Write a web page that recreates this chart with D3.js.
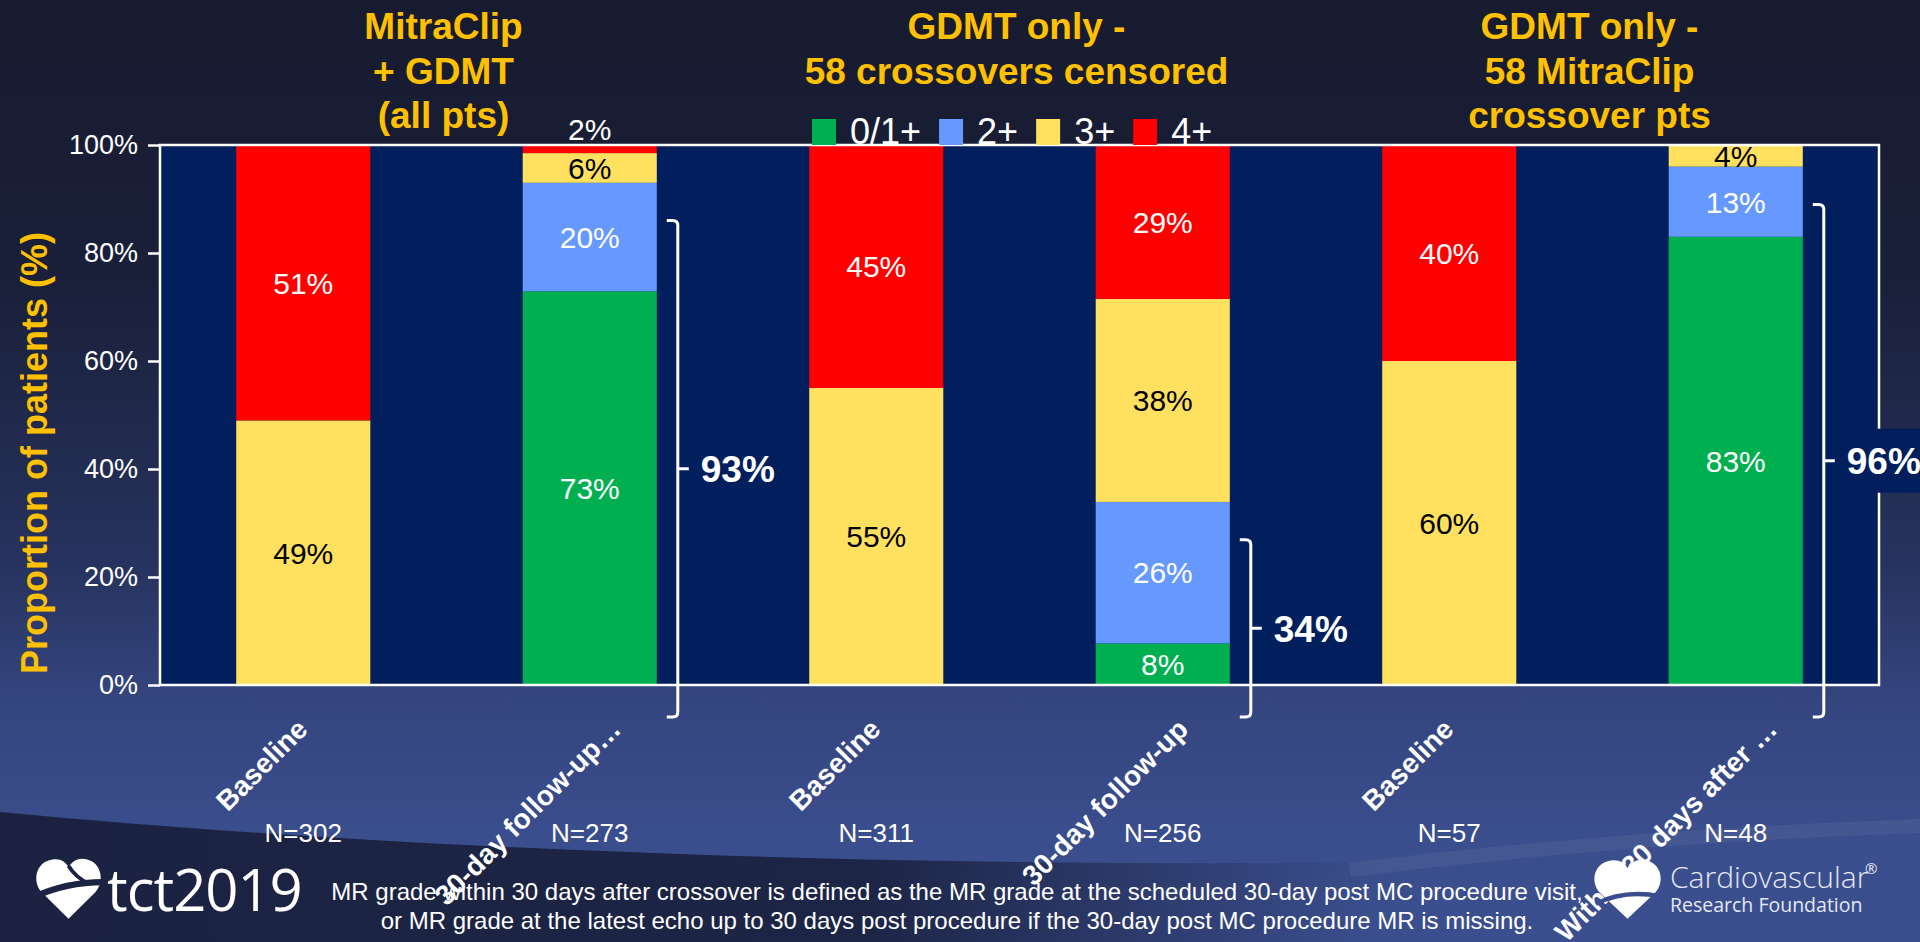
<!DOCTYPE html>
<html>
<head>
<meta charset="utf-8">
<script src="https://cdn.jsdelivr.net/npm/d3@7"></script>
<style>
  html, body { margin: 0; padding: 0; background: #171c30; overflow: hidden; }
  svg { display: block; font-family: Arial, "Liberation Sans", sans-serif; }
</style>
</head>
<body>
<svg id="chart" width="1920" height="942"></svg>
<script>
// Data (MR grade distribution, % of patients)
const categories = ["Baseline", "30-day follow-up\u2026", "Baseline", "30-day follow-up", "Baseline", "Within 30 days after \u2026"];
const nLabels = ["N=302", "N=273", "N=311", "N=256", "N=57", "N=48"];
const grades = ["0/1+", "2+", "3+", "4+"];
const grade01 = [0, 72.9, 0, 7.7, 0, 83.0];
const grade2 = [0, 20.1, 0, 26.2, 0, 13.0];
const grade3 = [49.0, 5.5, 55.0, 37.6, 60.0, 4.0];
const grade4 = [51.0, 1.5, 45.0, 28.5, 40.0, 0];
const yTicks = [0, 20, 40, 60, 80, 100];
const groupTitles = [
    ["MitraClip", "+ GDMT", "(all pts)"],
    ["GDMT only -", "58 crossovers censored"],
    ["GDMT only -", "58 MitraClip", "crossover pts"]
];
const bracketBars = [1, 3, 5];
const footnote = [
    "MR grade within 30 days after crossover is defined as the MR grade at the scheduled 30-day post MC procedure visit,",
    "or MR grade at the latest echo up to 30 days post procedure if the 30-day post MC procedure MR is missing."
];

const W = 1920, H = 942;
const margin = {top: 145, right: 41, bottom: 257, left: 160};
const w = W - margin.left - margin.right;
const h = H - margin.top - margin.bottom;

const gold = "#ffc000";
const color = d3.scaleOrdinal().domain(grades).range(["#00b050", "#6699ff", "#ffe15f", "#ff0000"]);
const labelColor = d3.scaleOrdinal().domain(grades).range(["#ffffff", "#ffffff", "#000000", "#ffffff"]);

const svg = d3.select("#chart");
const defs = svg.append("defs");

// Slide background
const bg = defs.append("linearGradient").attr("id", "bg").attr("x1", 0).attr("y1", 0).attr("x2", 0).attr("y2", 1);
[[0, "#171b2f"], [0.3, "#1a203a"], [0.6, "#27335f"], [0.74, "#34457e"], [0.88, "#3a4d8c"], [1, "#3b4f8f"]]
    .forEach(s => bg.append("stop").attr("offset", s[0]).attr("stop-color", s[1]));
const sw = defs.append("linearGradient").attr("id", "swoosh").attr("x1", 0).attr("y1", 0).attr("x2", 1).attr("y2", 0);
[[0, "#1b2241", 1], [0.45, "#1d2546", 1], [0.72, "#1d2546", 0]]
    .forEach(s => sw.append("stop").attr("offset", s[0]).attr("stop-color", s[1]).attr("stop-opacity", s[2]));

svg.append("rect").attr("width", W).attr("height", H).attr("fill", "url(#bg)");
svg.append("path")
    .attr("d", "M0,812 C400,850 900,868 1400,862 C1650,858 1800,850 1920,845 L1920,942 L0,942 Z")
    .attr("fill", "url(#swoosh)");
svg.append("path")
    .attr("d", "M1350,870 C1550,845 1750,832 1920,826")
    .attr("fill", "none").attr("stroke", "#ffffff").attr("stroke-opacity", 0.06).attr("stroke-width", 14);

// Scales
const x = d3.scaleBand()
    .domain(d3.range(categories.length))
    .range([margin.left, margin.left + w])
    .paddingInner(0.532)
    .paddingOuter(0.266);
const y = d3.scaleLinear().domain([0, 100]).range([margin.top + h, margin.top]);

// Plot area
svg.append("rect")
    .attr("x", margin.left).attr("y", margin.top)
    .attr("width", w).attr("height", h)
    .attr("fill", "#001f5c");

// Stacked bars
const rows = categories.map((c, i) => ({i: i, "0/1+": grade01[i], "2+": grade2[i], "3+": grade3[i], "4+": grade4[i]}));
const series = d3.stack().keys(grades)(rows);

const layers = svg.append("g").selectAll("g")
    .data(series)
    .join("g")
    .attr("fill", d => color(d.key));

layers.selectAll("rect")
    .data(d => d.filter(p => p[1] - p[0] > 0))
    .join("rect")
    .attr("x", d => x(d.data.i))
    .attr("y", d => y(d[1]))
    .attr("width", x.bandwidth())
    .attr("height", d => y(d[0]) - y(d[1]));

// Segment labels
series.forEach(s => {
    s.forEach(p => {
        const v = p[1] - p[0];
        if (v <= 0) return;
        const hh = y(p[0]) - y(p[1]);
        const inside = hh >= 18;
        svg.append("text")
            .attr("x", x(p.data.i) + x.bandwidth() / 2)
            .attr("y", inside ? (y(p[0]) + y(p[1])) / 2 : y(p[1]) - 16)
            .attr("dy", "0.36em")
            .attr("text-anchor", "middle")
            .attr("font-size", 30)
            .attr("fill", inside ? labelColor(s.key) : "#ffffff")
            .text(Math.round(v) + "%");
    });
});

// Plot border
svg.append("rect")
    .attr("x", margin.left).attr("y", margin.top)
    .attr("width", w).attr("height", h)
    .attr("fill", "none")
    .attr("stroke", "#ffffff")
    .attr("stroke-width", 2.5);

// Y axis
const yAxis = svg.append("g")
    .attr("transform", "translate(" + margin.left + ",0)")
    .call(d3.axisLeft(y).tickValues(yTicks).tickSize(12).tickPadding(10).tickFormat(d => d + "%"));
yAxis.select(".domain").remove();
yAxis.selectAll(".tick line").attr("stroke", "#ffffff").attr("stroke-width", 2.5);
yAxis.selectAll(".tick text")
    .attr("fill", "#ffffff")
    .attr("font-size", 27)
    .attr("font-family", "Arial, 'Liberation Sans', sans-serif");

svg.append("text")
    .attr("transform", "translate(47,453) rotate(-90)")
    .attr("text-anchor", "middle")
    .attr("font-size", 36)
    .attr("font-weight", "bold")
    .attr("fill", gold)
    .text("Proportion of patients (%)");

// Legend
const legend = svg.append("g");
let lx = 812;
grades.forEach(g => {
    legend.append("rect")
        .attr("x", lx).attr("y", margin.top - 26)
        .attr("width", 24).attr("height", 26)
        .attr("fill", color(g));
    const t = legend.append("text")
        .attr("x", lx + 38).attr("y", margin.top - 1)
        .attr("font-size", 36)
        .attr("fill", "#ffffff")
        .text(g);
    lx += 38 + t.node().getComputedTextLength() + 18;
});

// Category labels (rotated) and N labels
categories.forEach((c, i) => {
    const cx = x(i) + x.bandwidth() / 2;
    const t = svg.append("text")
        .attr("text-anchor", "end")
        .attr("font-size", 28)
        .attr("font-weight", "bold")
        .attr("fill", "#ffffff")
        .text(c);
    const len = t.node().getComputedTextLength();
    t.attr("transform", "translate(" + (cx + 0.2 * len - 17) + ",731) rotate(-45)");

    svg.append("text")
        .attr("x", cx).attr("y", 842)
        .attr("text-anchor", "middle")
        .attr("font-size", 26)
        .attr("fill", "#ffffff")
        .text(nLabels[i]);
});

// Group titles
groupTitles.forEach((lines, g) => {
    const cx = (x(2 * g) + x(2 * g + 1) + x.bandwidth()) / 2 - 3;
    lines.forEach((line, k) => {
        svg.append("text")
            .attr("x", cx).attr("y", 39 + k * 44.5)
            .attr("text-anchor", "middle")
            .attr("font-size", 37)
            .attr("font-weight", "bold")
            .attr("fill", gold)
            .text(line);
    });
});

// Brackets summing 0/1+ and 2+
bracketBars.forEach(i => {
    const total = grade01[i] + grade2[i];
    const x0 = x(i) + x.bandwidth() + 21;
    const yTop = y(total - 7), yBot = y(0) + 32, ym = (yTop + yBot) / 2;
    const r = 5, arm = 11;
    const d = "M" + (x0 - arm) + "," + yTop + " L" + (x0 - r) + "," + yTop +
        " Q" + x0 + "," + yTop + " " + x0 + "," + (yTop + r) +
        " L" + x0 + "," + (yBot - r) +
        " Q" + x0 + "," + yBot + " " + (x0 - r) + "," + yBot +
        " L" + (x0 - arm) + "," + yBot +
        " M" + x0 + "," + ym + " L" + (x0 + 11) + "," + ym;
    const label = svg.append("g");
    const box = label.append("rect").attr("fill", "#001f5c");
    const t = label.append("text")
        .attr("x", x0 + 23).attr("y", ym)
        .attr("dy", "0.36em")
        .attr("font-size", 37)
        .attr("font-weight", "bold")
        .attr("fill", "#ffffff")
        .text(Math.round(total) + "%");
    const len = t.node().getComputedTextLength();
    if (x0 + 23 + len > margin.left + w) {
        box.attr("x", x0 + 12).attr("y", ym - 32).attr("width", W - x0 - 12).attr("height", 64);
    } else {
        box.remove();
    }
    svg.append("path")
        .attr("d", d)
        .attr("fill", "none")
        .attr("stroke", "#ffffff")
        .attr("stroke-width", 3);
});

// Footnote
footnote.forEach((line, k) => {
    svg.append("text")
        .attr("x", 957).attr("y", 900 + k * 29)
        .attr("text-anchor", "middle")
        .attr("font-size", 24)
        .attr("fill", "#ffffff")
        .text(line);
});

// Logos
const heart = "M50,98 L10,56 C-4,40 0,8 26,4 C38,2 46,8 50,16 C56,6 66,0 78,4 C100,10 104,40 90,56 Z";
const tct = svg.append("g").attr("transform", "translate(35,857) scale(0.67,0.63)");
tct.append("path").attr("d", heart).attr("fill", "#ffffff");
tct.append("path").attr("d", "M-2,64 C30,48 62,40 102,40").attr("fill", "none").attr("stroke", "#1c2343").attr("stroke-width", 10);
tct.append("path").attr("d", "M50,14 C58,28 68,36 80,42").attr("fill", "none").attr("stroke", "#1c2343").attr("stroke-width", 6);
svg.append("text")
    .attr("x", 107).attr("y", 911)
    .attr("font-family", "'Open Sans', sans-serif")
    .attr("font-size", 58)
    .attr("letter-spacing", -1)
    .attr("fill", "#ffffff")
    .text("tct2019");

const crf = svg.append("g").attr("transform", "translate(1593,858) scale(0.69,0.62)");
crf.append("path").attr("d", heart).attr("fill", "#ffffff");
crf.append("path").attr("d", "M4,74 C32,58 62,54 98,62").attr("fill", "none").attr("stroke", "#3a4c8e").attr("stroke-width", 7);
svg.append("text")
    .attr("x", 1670).attr("y", 888)
    .attr("font-family", "'Open Sans', sans-serif")
    .attr("font-weight", 300)
    .attr("font-size", 30)
    .attr("fill", "#e4e8f2")
    .text("Cardiovascular");
svg.append("text")
    .attr("x", 1865).attr("y", 874)
    .attr("font-family", "'Open Sans', sans-serif")
    .attr("font-size", 15)
    .attr("fill", "#e4e8f2")
    .text("\u00ae");
svg.append("text")
    .attr("x", 1670).attr("y", 912)
    .attr("font-family", "'Open Sans', sans-serif")
    .attr("font-size", 19.5)
    .attr("fill", "#e4e8f2")
    .text("Research Foundation");
</script>
</body>
</html>
